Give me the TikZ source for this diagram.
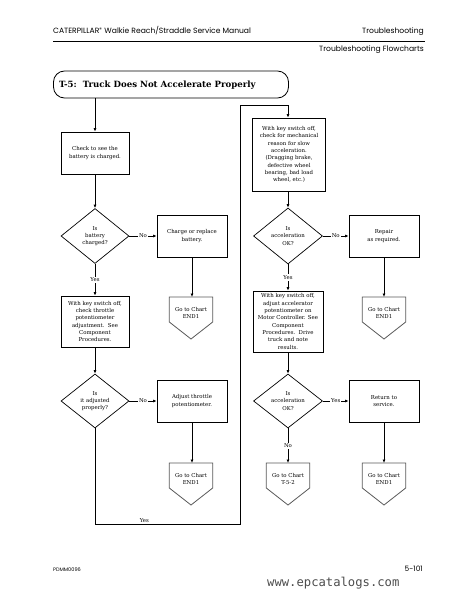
\documentclass[tikz,border=0pt]{standalone}
\usepackage{fontspec}
\usetikzlibrary{shapes.geometric,arrows.meta,calc}
\newfontfamily\hdrfont{Poppins}
\newfontfamily\boxfont{DejaVu Serif}
\newfontfamily\monofont{DejaVu Sans Mono}
\tikzset{
  base/.style={line width=0.7pt},
  arr/.style={base,-{Latex[length=3.5pt,width=3pt]}},
  proc/.style={draw,base,rectangle,inner sep=1pt,align=center,font=\boxfont\fontsize{5.4}{7.3}\selectfont},
  dec/.style={draw,base,diamond,inner sep=0pt},
  dectext/.style={align=center,inner sep=0pt,font=\boxfont\fontsize{5.4}{7.3}\selectfont},
  goto/.style={rectangle,inner sep=0pt,minimum width=43pt,minimum height=32pt,anchor=north,align=center,font=\boxfont\fontsize{5.4}{7.3}\selectfont},
  gotoline/.style={draw=black!65,line width=0.8pt},
  elab/.style={fill=white,inner sep=1pt,font=\boxfont\fontsize{5.4}{7}\selectfont},
  hdr/.style={inner sep=0pt,font=\hdrfont\fontsize{7.6}{9}\selectfont},
}
\newcommand{\gotoshape}[1]{\draw[gotoline] (#1.north west) -- ($(#1.north west)+(0,25)$) -- ($(#1.north)+(0,42)$) -- ($(#1.north east)+(0,25)$) -- (#1.north east) -- cycle;}
\begin{document}
\begin{tikzpicture}[x=1pt,y=-1pt]
\useasboundingbox (0,0) rectangle (461,599);
% header
\node[hdr,anchor=base west] (h1) at (53,34) {CATERPILLAR\textsuperscript{\fontsize{5}{5}\selectfont ®} Walkie Reach/Straddle Service Manual};
\node[hdr,anchor=base east] (h2) at (424,34) {Troubleshooting};
\draw[line width=0.8pt] (53,41) -- (425,41);
\node[hdr,anchor=base east] (h3) at (424,51.5) {Troubleshooting Flowcharts};
% title
\node[draw,line width=0.8pt,rounded corners=11pt,minimum width=235pt,minimum height=27pt,inner sep=0pt] (t) at (171,84.5) {};
\node[anchor=west,inner sep=0pt,font=\boxfont\bfseries\fontsize{8.6}{10}\selectfont] (tt) at (59,85) {T-5:\hspace{6pt}Truck Does Not Accelerate Properly};
% left column
\node[proc,minimum width=68pt,minimum height=42pt] (b1) at (95,153) {Check to see the\\battery is charged.};
\node[dec,minimum width=68pt,minimum height=55pt] (d1) at (95,236) {};
\node[dectext] at (d1) {Is\\battery\\charged?};
\node[proc,minimum width=70pt,minimum height=42pt] (b2) at (192,236) {Charge or replace\\battery.};
\node[goto] (g1) at (191,297) {Go to Chart\\END1};
\gotoshape{g1}
\node[proc,minimum width=68pt,minimum height=51pt] (b3) at (95,321.5) {With key switch off,\\check throttle\\potentiometer\\adjustment.\ \ See\\Component\\Procedures.};
\node[dec,minimum width=68pt,minimum height=54pt] (d2) at (95,401) {};
\node[dectext] at (d2) {Is\\it adjusted\\properly?};
\node[proc,minimum width=70pt,minimum height=42pt] (b4) at (192,401) {Adjust throttle\\potentiometer.};
\node[goto] (g2) at (191,463) {Go to Chart\\END1};
\gotoshape{g2}
% right column
\node[proc,minimum width=73pt,minimum height=73pt] (b5) at (289,154.5) {With key switch off,\\check for mechanical\\reason for slow\\acceleration.\\(Dragging brake,\\defective wheel\\bearing, bad load\\wheel, etc.)};
\node[dec,minimum width=69pt,minimum height=56pt] (d3) at (288,236) {};
\node[dectext] at (d3) {Is\\acceleration\\OK?};
\node[proc,minimum width=70pt,minimum height=42pt] (b6) at (384,236) {Repair\\as required.};
\node[goto] (g3) at (384,297) {Go to Chart\\END1};
\gotoshape{g3}
\node[proc,minimum width=70pt,minimum height=61pt] (b7) at (288,321.5) {With key switch off,\\adjust accelerator\\potentiometer on\\Motor Controller. See\\Component\\Procedures.\ \ Drive\\truck and note\\results.};
\node[dec,minimum width=69pt,minimum height=54pt] (d4) at (288,401) {};
\node[dectext] at (d4) {Is\\acceleration\\OK?};
\node[proc,minimum width=70pt,minimum height=42pt] (b8) at (384,401) {Return to\\service.};
\node[goto] (g4) at (288,463) {Go to Chart\\T-5-2};
\gotoshape{g4}
\node[goto] (g5) at (384,463) {Go to Chart\\END1};
\gotoshape{g5}
% connectors
\draw[arr] (b1.north |- t.south) -- (b1.north);
\draw[arr] (b1.south) -- (d1.north);
\draw[arr] (d1.east) -- node[elab]{No} (b2.west);
\draw[arr] (b2.south) -- (b2.south |- g1.north);
\draw[arr] (d1.south) -- node[elab,pos=0.5]{Yes} (d1.south |- b3.north);
\draw[arr] (b3.south) -- (d2.north);
\draw[arr] (d2.east) -- node[elab]{No} (b4.west);
\draw[arr] (b4.south) -- (b4.south |- g2.north);
\coordinate (c1) at (240,524);
\coordinate (c2) at (240,105);
\draw[arr] (d2.south) |- node[pos=0.67,above,inner sep=1.5pt,font=\boxfont\fontsize{5.4}{7}\selectfont]{Yes} (c1) -- (c2) -| (b5.north -| d3.north);
\draw[arr] (b5.south -| d3.north) -- (d3.north);
\draw[arr] (d3.east) -- node[elab]{No} (b6.west);
\draw[arr] (b6.south) -- (g3.north);
\draw[arr] (d3.south) -- node[elab,pos=0.5]{Yes} (b7.north);
\draw[arr] (b7.south) -- (d4.north);
\draw[arr] (d4.east) -- node[elab]{Yes} (b8.west);
\draw[arr] (b8.south) -- (g5.north);
\draw[arr] (d4.south) -- node[elab,pos=0.5]{No} (g4.north);
% footer
\node[anchor=base west,inner sep=0pt,font=\hdrfont\fontsize{5}{6}\selectfont] (f1) at (53,571) {PDMM0096};
\node[anchor=base east,inner sep=0pt,font=\hdrfont\fontsize{7.4}{9}\selectfont] (f2) at (423,571.5) {5-101};
\node[anchor=base west,inner sep=0pt,text=black!70,font=\monofont\fontsize{12.2}{14}\selectfont] (f3) at (267,586) {www.epcatalogs.com};
\end{tikzpicture}
\end{document}
